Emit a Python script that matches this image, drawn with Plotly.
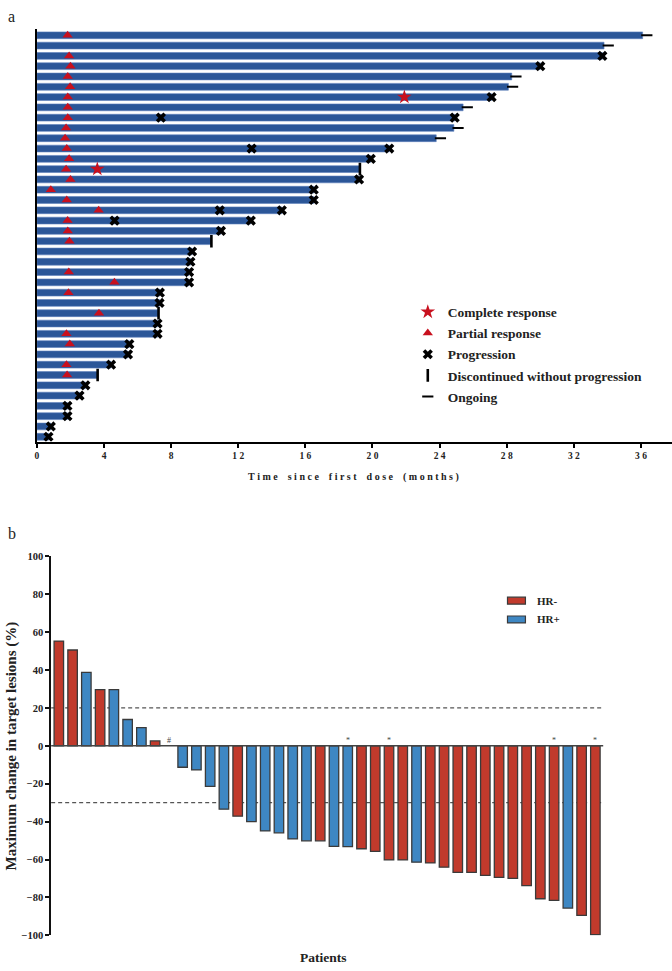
import plotly.graph_objects as go

# ---------------- Panel a: swimmer plot data ----------------
rows = list(range(1, 41))
end_time = [36.1, 33.8, 33.7, 30.0, 28.3, 28.1, 27.1, 25.4, 24.9, 24.85,
            23.8, 21.0, 19.9, 19.25, 19.2, 16.5, 16.5, 14.6, 12.75, 10.97,
            10.4, 9.25, 9.15, 9.07, 9.07, 7.33, 7.31, 7.25, 7.19, 7.19,
            5.51, 5.43, 4.42, 3.62, 2.89, 2.54, 1.82, 1.82, 0.83, 0.69]
end_type = ['O', 'O', 'P', 'P', 'O', 'O', 'P', 'O', 'P', 'O',
            'O', 'P', 'P', 'D', 'P', 'P', 'P', 'P', 'P', 'P',
            'D', 'P', 'P', 'P', 'P', 'P', 'P', 'D', 'P', 'P',
            'P', 'P', 'P', 'D', 'P', 'P', 'P', 'P', 'P', 'P']
pr_time = [1.83, None, 1.92, 2.0, 1.84, 1.98, 1.84, 1.84, 1.84, 1.74,
           1.68, 1.78, 1.92, 1.74, 2.0, 0.83, 1.78, 3.68, 1.83, 1.84,
           1.94, None, None, 1.9, 4.62, 1.88, None, 3.7, None, 1.76,
           1.96, None, 1.76, 1.8, None, None, None, None, None, None]
cr_rows = [7, 14]
cr_time = [21.9, 3.6]
extra_prog_rows = [9, 12, 18, 19]
extra_prog_time = [7.39, 12.8, 10.9, 4.63]
x_ticks_a = [0, 4, 8, 12, 16, 20, 24, 28, 32, 36]

# ---------------- Panel b: waterfall data ----------------
patients = list(range(1, 41))
change = [55.3, 50.6, 38.8, 29.7, 29.7, 13.9, 9.6, 2.6, None, -11.3,
          -12.7, -21.4, -33.4, -37.1, -40.0, -44.9, -45.9, -49.1, -50.1, -50.1,
          -53.1, -53.2, -54.3, -55.7, -60.2, -60.2, -61.4, -61.8, -64.0, -66.8,
          -66.8, -68.4, -69.4, -69.9, -73.8, -80.7, -81.6, -85.6, -89.5, -99.7]
hr = ['-', '-', '+', '-', '+', '+', '+', '-', '+', '+',
      '+', '+', '+', '-', '+', '+', '+', '+', '+', '-',
      '+', '+', '-', '-', '-', '-', '+', '-', '-', '-',
      '-', '-', '-', '-', '-', '-', '-', '+', '-', '-']
notes = {9: '#', 22: '*', 25: '*', 37: '*', 40: '*'}
y_ticks_b = [-100, -80, -60, -40, -20, 0, 20, 40, 60, 80, 100]
thresholds = [20, -30]

SERIF = "Liberation Serif"
W, H = 672, 971
RED = '#C13A2C'
BLUE = '#3E87C3'
NAVY = '#2B5698'
MRED = '#C8101E'


def spaced(s):
    out = []
    for ch in s:
        if ch == ' ':
            out.append('\u00a0\u00a0')
        else:
            out.append(ch)
    return '\u00a0'.join(out)


def px(x):
    return x / W


def py(y):
    return 1 - y / H


fig = go.Figure()

# swimmer bars
fig.add_trace(go.Bar(
    x=end_time, y=rows, orientation='h', width=0.66,
    marker=dict(color=NAVY, line=dict(color='#5E80BC', width=0.6)),
    showlegend=False, xaxis='x', yaxis='y', hoverinfo='skip'))

# complete response
fig.add_trace(go.Scatter(
    x=cr_time, y=cr_rows, mode='markers', name='Complete response',
    marker=dict(symbol='star', size=11, color=MRED),
    xaxis='x', yaxis='y', legendgroup='a1'))

# partial response
pr_x = [t for t in pr_time if t is not None]
pr_y = [r for r, t in zip(rows, pr_time) if t is not None]
fig.add_trace(go.Scatter(
    x=pr_x, y=pr_y, mode='markers', name='Partial response',
    marker=dict(symbol='triangle-up', size=9, color=MRED),
    xaxis='x', yaxis='y', legendgroup='a2'))

# progression
pg_x = [t for t, k in zip(end_time, end_type) if k == 'P'] + extra_prog_time
pg_y = [r for r, k in zip(rows, end_type) if k == 'P'] + extra_prog_rows
fig.add_trace(go.Scatter(
    x=pg_x, y=pg_y, mode='markers', name='Progression',
    marker=dict(symbol='x', size=9, color='black'),
    xaxis='x', yaxis='y', legendgroup='a3'))

# discontinued
dc_x = [t for t, k in zip(end_time, end_type) if k == 'D']
dc_y = [r for r, k in zip(rows, end_type) if k == 'D']
fig.add_trace(go.Scatter(
    x=dc_x, y=dc_y, mode='markers', name='Discontinued without progression',
    marker=dict(symbol='line-ns', size=9, color='black',
                line=dict(color='black', width=2.6)),
    xaxis='x', yaxis='y', legendgroup='a4'))

# ongoing
og_x = [t + 0.25 for t, k in zip(end_time, end_type) if k == 'O']
og_y = [r for r, k in zip(rows, end_type) if k == 'O']
fig.add_trace(go.Scatter(
    x=og_x, y=og_y, mode='markers', name='Ongoing',
    marker=dict(symbol='line-ew', size=8, color='black',
                line=dict(color='black', width=2)),
    xaxis='x', yaxis='y', legendgroup='a5'))

# waterfall bars
for code, col in [('-', RED), ('+', BLUE)]:
    xs = [p for p, h, c in zip(patients, hr, change) if h == code and c is not None]
    ys = [c for h, c in zip(hr, change) if h == code and c is not None]
    fig.add_trace(go.Bar(
        x=xs, y=ys, width=0.69,
        marker=dict(color=col, line=dict(color='#3a3a3a', width=1.3)),
        showlegend=False, xaxis='x2', yaxis='y2', hoverinfo='skip'))

shapes = []
for t in thresholds:
    shapes.append(dict(type='line', xref='x2 domain', yref='y2', x0=0, x1=1,
                       y0=t, y1=t, layer='below',
                       line=dict(color='#555555', width=1.2, dash='4px,3px')))
shapes.append(dict(type='line', xref='x2 domain', yref='y2', x0=0, x1=1,
                   y0=0, y1=0, layer='above',
                   line=dict(color='#444444', width=1.5)))

# manual legend for panel b
for i, (lab, col) in enumerate([('HR-', RED), ('HR+', BLUE)]):
    yc = 602.5 + i * 19
    shapes.append(dict(type='rect', xref='paper', yref='paper',
                       x0=px(507), x1=px(525), y0=py(yc + 3.5), y1=py(yc - 3.5),
                       fillcolor=col, line=dict(color='#3a3a3a', width=1.2)))

annotations = []
for i, lab in enumerate(['HR-', 'HR+']):
    yc = 602.5 + i * 19
    annotations.append(dict(xref='paper', yref='paper', x=px(535), y=py(yc),
                            xanchor='left', yanchor='middle', showarrow=False,
                            text=lab, font=dict(family=SERIF, size=11, color='#222', weight='bold')))

for p, s in notes.items():
    annotations.append(dict(xref='x2', yref='y2', x=p, y=0, yanchor='bottom',
                            showarrow=False, text=s, yshift=-1,
                            font=dict(family=SERIF, size=8, color='#444')))

annotations += [
    dict(xref='paper', yref='paper', x=px(4), y=py(12), xanchor='left', yanchor='middle',
         showarrow=False, text='a', font=dict(family=SERIF, size=16, color='#222')),
    dict(xref='paper', yref='paper', x=px(4), y=py(535), xanchor='left', yanchor='middle',
         showarrow=False, text='b', font=dict(family=SERIF, size=16, color='#222')),
    dict(xref='paper', yref='paper', x=px(353), y=py(477), xanchor='center', yanchor='middle',
         showarrow=False, text=spaced('Time since first dose (months)'),
         font=dict(family=SERIF, size=10, color='#222', weight='bold')),
    dict(xref='paper', yref='paper', x=px(10), y=py(749), xanchor='center', yanchor='middle',
         showarrow=False, textangle=-90, text='Maximum change in target lesions (%)',
         font=dict(family=SERIF, size=15, color='#222', weight='bold')),
    dict(xref='paper', yref='paper', x=px(322), y=py(963), xanchor='center', yanchor='middle',
         showarrow=False, text='Patients',
         font=dict(family=SERIF, size=13.5, color='#222', weight='bold')),
]

fig.update_layout(
    width=W, height=H, margin=dict(l=0, r=0, t=0, b=0),
    paper_bgcolor='white', plot_bgcolor='white', barmode='overlay',
    showlegend=True,
    legend=dict(x=px(407), y=py(295), xanchor='left', yanchor='top',
                font=dict(family=SERIF, size=13.5, color='#222', weight='bold'),
                bgcolor='rgba(0,0,0,0)', tracegroupgap=0.6, itemsizing='trace'),
    xaxis=dict(domain=[px(35), 1], range=[0, 37.85], anchor='y',
               showline=True, linecolor='black', linewidth=2,
               ticks='outside', ticklen=4, tickwidth=1.5, tickcolor='black',
               tickvals=x_ticks_a, ticktext=[spaced(str(v)) for v in x_ticks_a],
               tickfont=dict(family=SERIF, size=9.5, color='#222', weight='bold'),
               showgrid=False, zeroline=False),
    yaxis=dict(domain=[py(441.7), py(24)], range=[40.48, 0.36], anchor='x',
               showline=True, linecolor='black', linewidth=2,
               showticklabels=False, ticks='', showgrid=False, zeroline=False),
    xaxis2=dict(domain=[px(49.3), px(603)], range=[0.442, 40.57], anchor='y2',
                showline=False, showticklabels=False, ticks='', showgrid=False,
                zeroline=False),
    yaxis2=dict(domain=[py(941), py(557.7)], range=[-100, 100], anchor='x2',
                showline=True, linecolor='#111', linewidth=1.5,
                ticks='outside', ticklen=4, tickwidth=1.5, tickcolor='#111',
                tickvals=y_ticks_b,
                tickfont=dict(family=SERIF, size=10.5, color='#222', weight='bold'),
                showgrid=False, zeroline=False),
    shapes=shapes, annotations=annotations,
)

fig.write_html("out.html",
               config={'displayModeBar': False},
               post_script="document.body.style.margin='0';"
                           "document.body.style.overflow='hidden';")
